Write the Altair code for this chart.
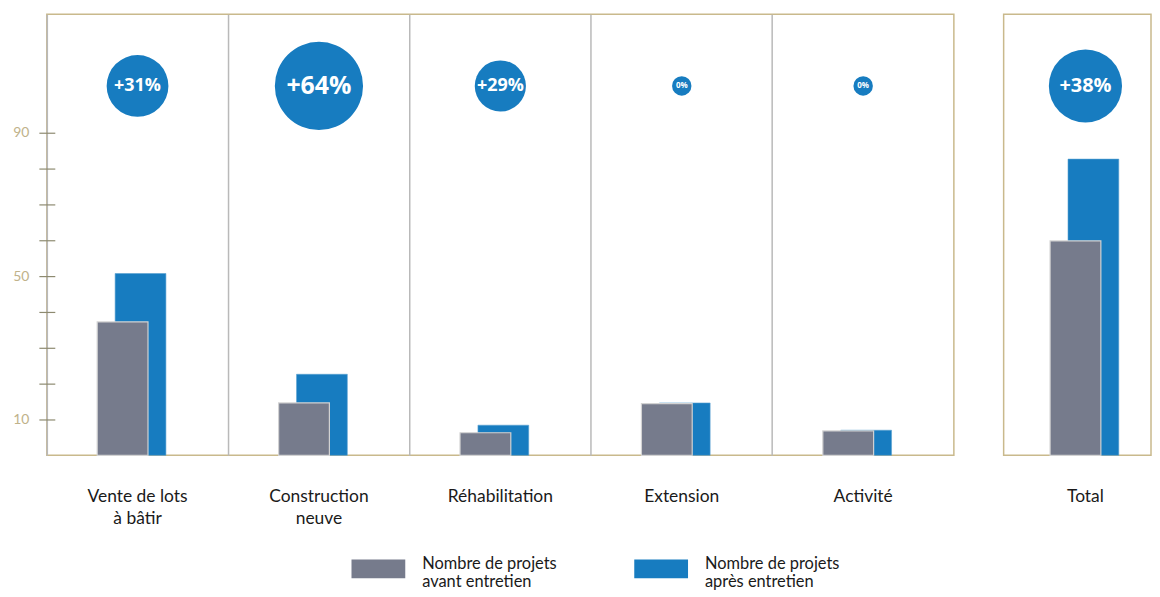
import altair as alt
import pandas as pd

# ---- data ----
categories = ["Vente de lots\nà bâtir", "Construction\nneuve", "Réhabilitation", "Extension", "Activité"]
avant = [37.2, 14.6, 6.3, 14.4, 6.8]
apres = [50.7, 22.6, 8.4, 14.6, 7.0]
evolution_label = ["+31%", "+64%", "+29%", "0%", "0%"]
evolution_pct = [31, 64, 29, 0, 0]

total_category = ["Total"]
total_avant = [59.8]
total_apres = [82.6]
total_evolution_label = ["+38%"]
total_evolution_pct = [38]

serie_avant = "Nombre de projets\navant entretien"
serie_apres = "Nombre de projets\naprès entretien"
y_ticks = [10, 20, 30, 40, 50, 60, 70, 80, 90]
y_labels_shown = [10, 50, 90]

# ---- styles ----
BLUE = "#177cc0"
GRAY = "#767b8c"
FRAME = "#c9b98c"
SEP = "#b9b9b9"
Y_MAX = 123
BUBBLE_Y = 103

BUBBLE_AREA_EXPR = ("datum.pct >= 60 ? 7850 : datum.pct >= 35 ? 5400 : "
                    "datum.pct >= 30 ? 3850 : datum.pct > 0 ? 2640 : 380")
BUBBLE_FONT_EXPR = ("datum.pct >= 60 ? 25 : datum.pct >= 35 ? 20 : "
                    "datum.pct > 0 ? 18 : 8")

color_scale = alt.Scale(domain=[serie_avant, serie_apres], range=[GRAY, BLUE])


def long_df(cats, av, ap):
    rows = []
    for c, a, b in zip(cats, av, ap):
        rows.append({"categorie": c, "serie": serie_avant, "valeur": a})
        rows.append({"categorie": c, "serie": serie_apres, "valeur": b})
    return pd.DataFrame(rows)


df_left = long_df(categories, avant, apres)
df_left_ev = pd.DataFrame({"categorie": categories, "label": evolution_label, "pct": evolution_pct})
df_tot = long_df(total_category, total_avant, total_apres)
df_tot_ev = pd.DataFrame({"categorie": total_category, "label": total_evolution_label, "pct": total_evolution_pct})

y_scale = alt.Scale(domain=[0, Y_MAX], nice=False, zero=True)

legend = alt.Legend(
    title=None, orient="none", legendX=306, legendY=530, direction="horizontal", columns=2,
    symbolType="M-1,-0.35L1,-0.35L1,0.35L-1,0.35Z", symbolSize=2916, symbolStrokeWidth=0,
    symbolOpacity=1, labelExpr="split(datum.label, '\\n')", labelFontSize=16.5, labelFont="Lato",
    labelColor="#1a1a1a", labelOffset=17, columnPadding=77, labelLimit=300,
    labelBaseline="alphabetic",
)


def panel(df, df_ev, cats, x_scale, y_axis, off_before, off_after, grid):
    x_axis = alt.Axis(
        title=None, labelAngle=0, ticks=False, domain=False,
        labelExpr="split(datum.label, '\\n')", labelFontSize=17.5, labelFont="Lato",
        labelColor="#1a1a1a", labelPadding=41, labelBaseline="middle", labelLineHeight=22,
        grid=grid, gridColor=SEP, gridWidth=1.5, bandPosition=0,
    )
    x = alt.X("categorie:N", sort=cats, scale=x_scale, axis=x_axis)
    y = alt.Y("valeur:Q", scale=y_scale, axis=y_axis)
    yb = alt.YDatum(BUBBLE_Y, axis=y_axis)
    after_bars = alt.Chart(df).transform_filter(alt.datum.serie == serie_apres).mark_bar(
        width=51, xOffset=off_after, stroke="#5aa0d0", strokeWidth=0.6
    ).encode(x=x, y=y, color=alt.Color("serie:N", scale=color_scale, legend=legend))
    before_bars = alt.Chart(df).transform_filter(alt.datum.serie == serie_avant).mark_bar(
        width=51, xOffset=off_before, stroke="#d2d2d2", strokeWidth=1.2
    ).encode(x=x, y=y, color=alt.Color("serie:N", scale=color_scale, legend=legend))
    ev = alt.Chart(df_ev).transform_calculate(area=BUBBLE_AREA_EXPR, fs=BUBBLE_FONT_EXPR)
    bubbles = ev.mark_circle(color=BLUE, opacity=1).encode(
        x=x, y=yb, size=alt.Size("area:Q", scale=None)
    )
    texts = ev.mark_text(color="white", fontWeight="bold", font="Open Sans").encode(
        x=x, y=yb, text="label:N", size=alt.Size("fs:Q", scale=None)
    )
    return [after_bars, before_bars, bubbles, texts]


left_y_axis = alt.Axis(
    title=None, values=y_ticks,
    labelExpr="indexof([" + ",".join(str(v) for v in y_labels_shown) + "], datum.value) >= 0 ? datum.label : ''",
    tickSize=16, offset=-8, domain=False, grid=False, tickColor="#8d8a70", tickWidth=1.2,
    labelColor="#c0b28a", labelFontSize=14, labelFont="Lato", labelPadding=10,
)

left = alt.layer(
    *panel(df_left, df_left_ev, categories, alt.Scale(paddingInner=0, paddingOuter=0),
           left_y_axis, -15, 3, True)
).properties(width=911, height=443)

right = alt.layer(
    *panel(df_tot, df_tot_ev, total_category,
           alt.Scale(paddingInner=0, paddingOuter=0.5, align=0.61), None, -10, 8, False)
).properties(width=148, height=443)

chart = alt.hconcat(left, right, spacing=48).properties(
    padding={"left": 4, "top": 4, "right": 0, "bottom": 0}
).configure(font="Lato").configure_view(stroke=FRAME, strokeWidth=1.5)

chart.save("out.html", embed_options={"renderer": "svg", "actions": False})
